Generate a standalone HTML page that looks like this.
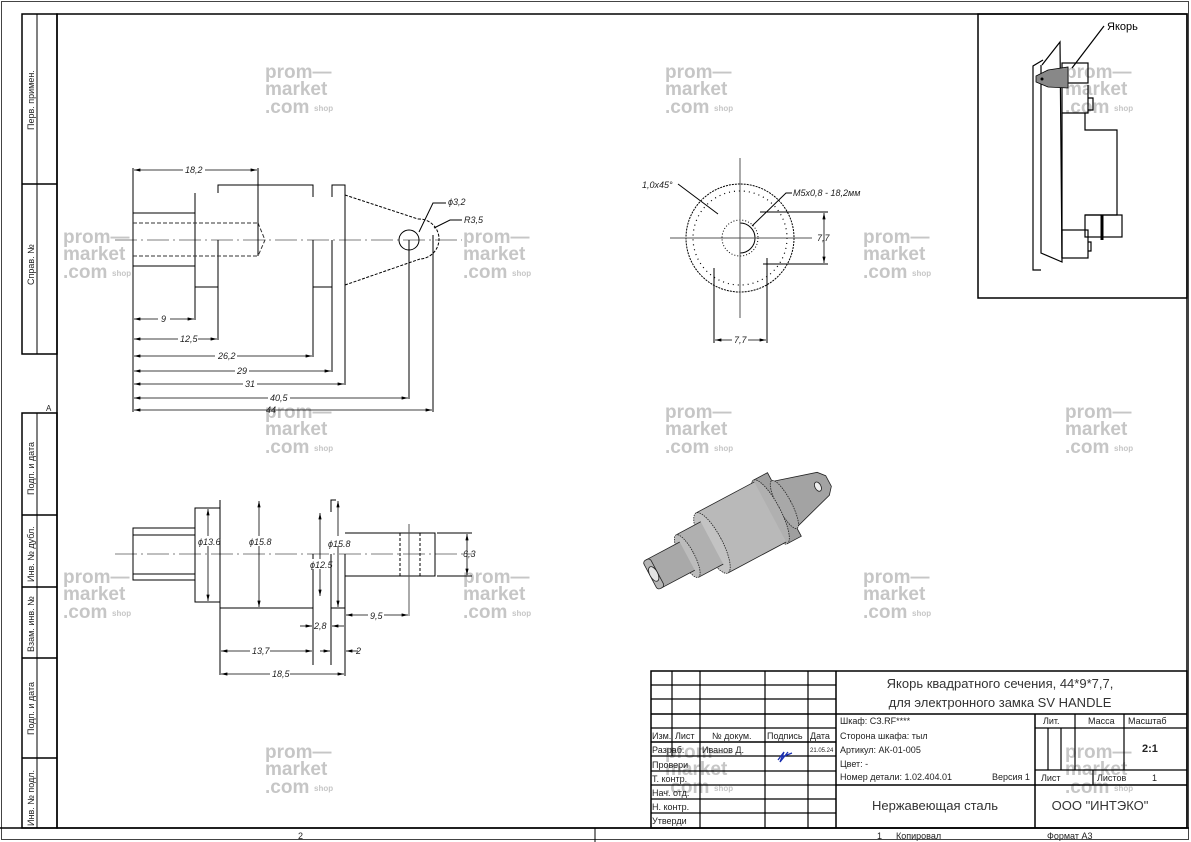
<!DOCTYPE html>
<html><head><meta charset="utf-8"><style>
html,body{margin:0;padding:0;background:#fff;}
svg{display:block;}
text{font-family:"Liberation Sans","DejaVu Sans",sans-serif;}
.t{font-family:"Liberation Sans Narrow","Liberation Sans",sans-serif;font-size:9px;fill:#222;}
.d{font-size:9px;font-style:italic;fill:#222;}
.wm{font-weight:bold;font-size:19px;fill:#c6c6c6;}
.ws{font-weight:bold;font-size:8px;fill:#c6c6c6;}
</style></head><body>
<svg width="1191" height="842" viewBox="0 0 1191 842" xmlns="http://www.w3.org/2000/svg">
<defs>
<marker id="a" viewBox="0 0 8 4" refX="8" refY="2" markerWidth="8" markerHeight="4" orient="auto-start-reverse"><path d="M0,0 L8,2 L0,4z" fill="#000"/></marker>
<g id="wm">
<text class="wm" x="0" y="0">prom—</text>
<text class="wm" x="0" y="17">market</text>
<text class="wm" x="0" y="35">.com</text>
<text class="ws" x="49" y="33">shop</text>
</g>
</defs>
<use href="#wm" x="265" y="78"/><use href="#wm" x="665" y="78"/><use href="#wm" x="1065" y="78"/>
<use href="#wm" x="63" y="243"/><use href="#wm" x="463" y="243"/><use href="#wm" x="863" y="243"/>
<use href="#wm" x="265" y="418"/><use href="#wm" x="665" y="418"/><use href="#wm" x="1065" y="418"/>
<use href="#wm" x="63" y="583"/><use href="#wm" x="463" y="583"/><use href="#wm" x="863" y="583"/>
<use href="#wm" x="265" y="758"/><use href="#wm" x="665" y="758"/><use href="#wm" x="1065" y="758"/>

<g fill="none" stroke="#000">
<rect x="1.5" y="1.5" width="1187" height="838" stroke="#444" stroke-width="1"/>
<rect x="57" y="14" width="1130" height="814" stroke-width="1.5"/>
<line x1="0" y1="828" x2="1189" y2="828" stroke-width="1.5"/>
<line x1="595" y1="828" x2="595" y2="842" stroke-width="1"/>
<rect x="22" y="14" width="35" height="340" stroke-width="1.5"/>
<line x1="37" y1="14" x2="37" y2="354"/>
<line x1="22" y1="184" x2="57" y2="184" stroke-width="1.5"/>
<rect x="22" y="413" width="35" height="415" stroke-width="1.5"/>
<line x1="37" y1="413" x2="37" y2="828"/>
<line x1="22" y1="515" x2="57" y2="515" stroke-width="1.5"/>
<line x1="22" y1="587" x2="57" y2="587" stroke-width="1.5"/>
<line x1="22" y1="658" x2="57" y2="658" stroke-width="1.5"/>
<line x1="22" y1="758" x2="57" y2="758" stroke-width="1.5"/>
</g>
<g class="t">
<text transform="translate(34,130) rotate(-90)">Перв. примен.</text>
<text transform="translate(34,285) rotate(-90)">Справ. №</text>
<text transform="translate(34,495) rotate(-90)">Подп. и дата</text>
<text transform="translate(34,582) rotate(-90)">Инв. № дубл.</text>
<text transform="translate(34,652) rotate(-90)">Взам. инв. №</text>
<text transform="translate(34,735) rotate(-90)">Подп. и дата</text>
<text transform="translate(34,826) rotate(-90)">Инв. № подл.</text>
<text x="46" y="411" font-size="8">A</text>
<text x="298" y="839">2</text>
<text x="877" y="839">1</text><text x="896" y="839">Копировал</text>
<text x="1047" y="839">Формат А3</text>
</g>

<!-- Front view -->
<g fill="none" stroke="#000" stroke-width="1">
<line x1="115" y1="240" x2="462" y2="240" stroke="#555" stroke-width="0.8" stroke-dasharray="22,4,2,4"/>
<polyline points="133,213 195,213"/><polyline points="133,266 195,266"/>
<line x1="133" y1="168" x2="133" y2="412"/>
<line x1="195" y1="193" x2="195" y2="320"/>
<polyline points="195,287 218,287 218,292"/>
<polyline points="218,193 218,185 313,185 313,197"/>
<line x1="218" y1="240" x2="218" y2="340"/>
<line x1="313" y1="240" x2="313" y2="357"/>
<polyline points="313,287 332,287"/>
<polyline points="332,197 332,185 345,185 345,197"/>
<line x1="332" y1="240" x2="332" y2="372"/>
<line x1="345" y1="195" x2="345" y2="385"/>
<g stroke-dasharray="4,2" stroke="#333"><line x1="133" y1="223" x2="258" y2="223"/><line x1="133" y1="256" x2="258" y2="256"/><polyline points="258,223 265,240 258,256"/></g>
<line x1="258" y1="168" x2="258" y2="256"/>
<g stroke-dasharray="3,1.5"><line x1="345" y1="195" x2="418" y2="219"/><line x1="345" y1="285" x2="420" y2="259"/>
<path d="M418,219 A20,20 0 0 1 420,259"/></g>
<circle cx="409" cy="240" r="10"/>
<line x1="409" y1="240" x2="409" y2="399"/>
<line x1="433" y1="235" x2="433" y2="412"/>
<polyline points="419,232 433,203 446,203"/>
<polyline points="434,228 450,220 462,220"/>
<g marker-start="url(#a)" marker-end="url(#a)" stroke-width="0.8">
<line x1="134" y1="170" x2="257" y2="170"/>
<line x1="134" y1="319" x2="194" y2="319"/>
<line x1="134" y1="339" x2="217" y2="339"/>
<line x1="134" y1="356" x2="312" y2="356"/>
<line x1="134" y1="371" x2="331" y2="371"/>
<line x1="134" y1="384" x2="344" y2="384"/>
<line x1="134" y1="398" x2="408" y2="398"/>
<line x1="134" y1="410" x2="432" y2="410"/>
</g>
</g>
<g class="d">
<rect x="183" y="164" width="22" height="10" fill="#fff"/><text x="185" y="173">18,2</text>
<rect x="158" y="314" width="12" height="10" fill="#fff"/><text x="161" y="322">9</text>
<rect x="178" y="334" width="20" height="10" fill="#fff"/><text x="180" y="342">12,5</text>
<rect x="215" y="350" width="22" height="10" fill="#fff"/><text x="218" y="359">26,2</text>
<rect x="235" y="366" width="14" height="10" fill="#fff"/><text x="237" y="374">29</text>
<rect x="243" y="379" width="14" height="10" fill="#fff"/><text x="245" y="387">31</text>
<rect x="268" y="393" width="22" height="10" fill="#fff"/><text x="270" y="401">40,5</text>
<text x="266" y="413">44</text>
<text x="448" y="205">ϕ3,2</text><text x="464" y="223">R3,5</text>
</g>

<!-- End view -->
<g fill="none" stroke="#000" stroke-width="1">
<circle cx="740" cy="238" r="54" stroke-dasharray="2,1"/>
<circle cx="740" cy="238" r="47" stroke-dasharray="1,4" stroke-width="1.2"/>
<circle cx="740" cy="238" r="18" stroke-dasharray="1,2"/>
<path d="M740,223 A15,15 0 1 1 740,253" />
<line x1="740" y1="158" x2="740" y2="318" stroke="#555"/>
<line x1="670" y1="238" x2="812" y2="238" stroke="#555"/>
<line x1="714" y1="268" x2="714" y2="343"/><line x1="767" y1="258" x2="767" y2="343"/>
<line x1="760" y1="212" x2="828" y2="212"/><line x1="763" y1="264" x2="828" y2="264"/>
<g marker-start="url(#a)" marker-end="url(#a)" stroke-width="0.8">
<line x1="715" y1="340" x2="766" y2="340"/><line x1="824" y1="213" x2="824" y2="263"/></g>
<line x1="678" y1="184" x2="718" y2="214"/><polyline points="752,226 786,193 792,193"/>
</g>
<g class="d"><text x="642" y="188">1,0x45°</text><text x="793" y="196">M5x0,8 - 18,2мм</text>
<text x="817" y="241">7,7</text><rect x="732" y="335" width="16" height="10" fill="#fff"/><text x="734" y="343">7,7</text></g>

<!-- Side view -->
<g fill="none" stroke="#000" stroke-width="1">
<line x1="115" y1="554" x2="472" y2="554" stroke="#555" stroke-width="0.8" stroke-dasharray="22,4,2,4"/>
<rect x="133" y="528" width="62" height="52"/>
<line x1="133" y1="535" x2="195" y2="535"/><line x1="133" y1="574" x2="195" y2="574"/>
<rect x="195" y="508" width="25" height="94"/>
<line x1="220" y1="500" x2="220" y2="675"/>
<line x1="220" y1="608" x2="313" y2="608"/>
<line x1="313" y1="554" x2="313" y2="665"/>
<polyline points="331,512 331,500 336,500"/>
<line x1="331" y1="554" x2="331" y2="665"/>
<polyline points="331,608 345,608"/>
<line x1="345" y1="554" x2="345" y2="676"/>
<polyline points="345,533 435,533 435,576 345,576"/>
<g stroke-dasharray="3,2"><line x1="400" y1="533" x2="400" y2="576"/><line x1="420" y1="533" x2="420" y2="576"/></g>
<line x1="409" y1="524" x2="409" y2="616" stroke="#555"/>
<line x1="437" y1="533" x2="472" y2="533"/><line x1="437" y1="576" x2="472" y2="576"/>
<g marker-start="url(#a)" marker-end="url(#a)" stroke-width="0.8">
<line x1="208" y1="509" x2="208" y2="601"/>
<line x1="259" y1="501" x2="259" y2="607"/>
<line x1="320" y1="513" x2="320" y2="596"/>
<line x1="338" y1="501" x2="338" y2="607"/>
<line x1="467" y1="534" x2="467" y2="575"/>
<line x1="346" y1="615" x2="408" y2="615"/>
<line x1="221" y1="651" x2="312" y2="651"/>
<line x1="221" y1="674" x2="344" y2="674"/>
</g>
<g marker-end="url(#a)" stroke-width="0.8"><line x1="300" y1="626" x2="312" y2="626"/><line x1="344" y1="626" x2="332" y2="626"/>
<line x1="320" y1="651" x2="330" y2="651"/><line x1="358" y1="651" x2="346" y2="651"/></g>
</g>
<g class="d">
<rect x="198" y="536" width="20" height="10" fill="#fff"/><text x="198" y="545">ϕ13.6</text>
<rect x="248" y="536" width="24" height="10" fill="#fff"/><text x="249" y="545">ϕ15.8</text>
<rect x="327" y="536" width="24" height="10" fill="#fff"/><text x="328" y="547">ϕ15.8</text>
<rect x="310" y="559" width="20" height="10" fill="#fff"/><text x="310" y="568">ϕ12.5</text>
<text x="463" y="557">6,3</text>
<rect x="368" y="610" width="16" height="10" fill="#fff"/><text x="370" y="619">9,5</text>
<text x="314" y="629">2,8</text><text x="356" y="654">2</text>
<rect x="250" y="646" width="20" height="10" fill="#fff"/><text x="252" y="654">13,7</text>
<rect x="270" y="669" width="20" height="10" fill="#fff"/><text x="272" y="677">18,5</text>
</g>

<!-- 3D -->
<g transform="translate(742,527) rotate(-28)" stroke="#222" stroke-width="0.8">
<polygon points="48,-26 92,-13 98,-6 98,6 92,13 48,26" fill="#a3a3a3"/>
<ellipse cx="86" cy="0" rx="3" ry="5" fill="#eee"/>
<rect x="32" y="-36" width="16" height="72" fill="#9f9f9f"/>
<ellipse cx="48" cy="0" rx="7" ry="27" fill="#a8a8a8" stroke-dasharray="1.5,1"/>
<ellipse cx="32" cy="0" rx="10" ry="36" fill="#b0b0b0" stroke-dasharray="1.5,1"/>
<rect x="-34" y="-34" width="66" height="68" fill="#b9b9b9" stroke="none"/>
<line x1="-34" y1="-34" x2="32" y2="-34"/><line x1="-34" y1="34" x2="32" y2="34"/>
<ellipse cx="-34" cy="0" rx="10" ry="34" fill="#c3c3c3" stroke-dasharray="1.5,1"/>
<rect x="-62" y="-24" width="28" height="48" fill="#b0b0b0" stroke="none"/>
<line x1="-62" y1="-24" x2="-34" y2="-24"/><line x1="-62" y1="24" x2="-34" y2="24"/>
<ellipse cx="-62" cy="0" rx="7" ry="24" fill="#bcbcbc" stroke-dasharray="1.5,1"/>
<rect x="-100" y="-16" width="38" height="32" fill="#a9a9a9" stroke="none"/>
<line x1="-100" y1="-16" x2="-62" y2="-16"/><line x1="-100" y1="16" x2="-62" y2="16"/>
<rect x="-104" y="-16" width="8" height="32" rx="3" fill="#b5b5b5"/>
<ellipse cx="-100" cy="0" rx="4" ry="8" fill="#e4e4e4"/>
</g>

<!-- inset -->
<g fill="none" stroke="#000" stroke-width="1.5">
<rect x="978" y="14" width="209" height="284"/>
<g stroke-width="1.2">
<polyline points="1043,60 1033,66 1033,270 1041,270"/>
<polyline points="1042,65 1060,42 1062,262 1041,253 1041,65"/>
<rect x="1062" y="63" width="26" height="20"/>
<polyline points="1062,85 1062,113 1088,113 1088,85"/>
<polyline points="1088,98 1093,98 1093,110 1088,110"/>
<polyline points="1085,113 1085,130 1117,130 1117,215 1085,215"/>
<rect x="1085" y="215" width="37" height="22"/>
<line x1="1102" y1="215" x2="1102" y2="240" stroke-width="3"/>
<rect x="1062" y="230" width="26" height="28"/>
<polyline points="1088,242 1091,242 1091,251 1088,251"/>
<line x1="1062" y1="113" x2="1062" y2="258"/>
<line x1="1072" y1="68" x2="1104" y2="26"/>
</g>
</g>
<polygon points="1036,76 1048,70 1068,67 1068,88 1048,87 1036,82" fill="#888" stroke="#000" stroke-width="0.8"/>
<circle cx="1042" cy="79" r="1.5" fill="#000"/>
<text x="1107" y="30" font-size="11" fill="#000">Якорь</text>

<!-- title block -->
<g fill="none" stroke="#000" stroke-width="1.2">
<rect x="651" y="671" width="536" height="157" stroke-width="1.5"/>
<line x1="836" y1="671" x2="836" y2="828" stroke-width="1.5"/>
<line x1="672" y1="671" x2="672" y2="756"/>
<line x1="700" y1="671" x2="700" y2="828"/>
<line x1="765" y1="671" x2="765" y2="828"/>
<line x1="808" y1="671" x2="808" y2="828"/>
<line x1="651" y1="685" x2="836" y2="685"/>
<line x1="651" y1="699" x2="836" y2="699"/>
<line x1="651" y1="714" x2="1187" y2="714" stroke-width="1.5"/>
<line x1="651" y1="728" x2="836" y2="728"/>
<line x1="651" y1="742" x2="836" y2="742" stroke-width="1.5"/>
<line x1="651" y1="756" x2="836" y2="756"/>
<line x1="651" y1="771" x2="836" y2="771"/>
<line x1="651" y1="785" x2="836" y2="785"/>
<line x1="651" y1="799" x2="836" y2="799"/>
<line x1="651" y1="813" x2="836" y2="813"/>
<line x1="836" y1="785" x2="1187" y2="785" stroke-width="1.5"/>
<line x1="1035" y1="714" x2="1035" y2="828" stroke-width="1.5"/>
<line x1="1035" y1="728" x2="1187" y2="728"/>
<line x1="1035" y1="770" x2="1187" y2="770"/>
<line x1="1075" y1="714" x2="1075" y2="770"/>
<line x1="1124" y1="714" x2="1124" y2="770"/>
<line x1="1048" y1="728" x2="1048" y2="770"/><line x1="1061" y1="728" x2="1061" y2="770"/>
<line x1="1093" y1="770" x2="1093" y2="785"/>
</g>
<g class="t">
<text x="652" y="739">Изм.</text><text x="675" y="739">Лист</text><text x="712" y="739">№ докум.</text><text x="767" y="739">Подпись</text><text x="810" y="739">Дата</text>
<text x="652" y="753">Разраб.</text><text x="702" y="753">Иванов Д.</text><text x="810" y="752" font-size="6">21.05.24</text>
<text x="652" y="768">Провери</text><text x="652" y="782">Т. контр.</text><text x="652" y="796">Нач. отд.</text><text x="652" y="810">Н. контр.</text><text x="652" y="824">Утверди</text>
<text x="840" y="724">Шкаф: СЗ.RF****</text><text x="840" y="739">Сторона шкафа: тыл</text><text x="840" y="753">Артикул: АК-01-005</text><text x="840" y="767">Цвет: -</text><text x="840" y="780">Номер детали: 1.02.404.01</text><text x="992" y="780">Версия 1</text>
<text x="1043" y="724">Лит.</text><text x="1088" y="724">Масса</text><text x="1128" y="724">Масштаб</text>
<text x="1041" y="781">Лист</text><text x="1097" y="781">Листов</text><text x="1152" y="781">1</text>
</g>
<path d="M778,760 l6,-8 l-4,10 l8,-10 M782,757 l10,-4" stroke="#1a2fb0" stroke-width="1.3" fill="none"/>
<text x="1142" y="752" font-size="11" font-weight="bold" fill="#222">2:1</text>
<g font-size="13" fill="#333" text-anchor="middle">
<text x="1000" y="688">Якорь квадратного сечения, 44*9*7,7,</text>
<text x="1000" y="707">для электронного замка SV HANDLE</text>
<text x="935" y="810">Нержавеющая сталь</text>
<text x="1100" y="810">ООО "ИНТЭКО"</text>
</g>
</svg>
</body></html>
